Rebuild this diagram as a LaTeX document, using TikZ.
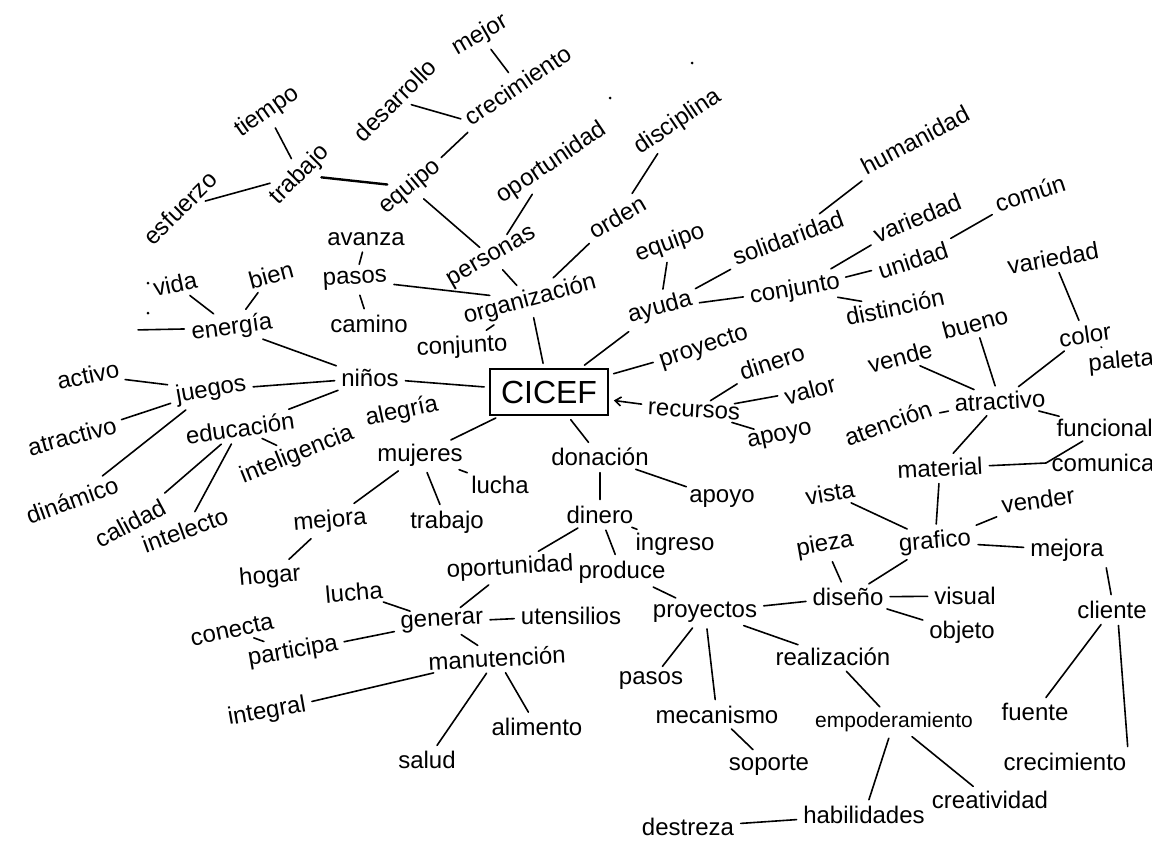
\documentclass[tikz,border=0pt]{standalone}
\usepackage{fontspec}
\setmainfont{Liberation Sans}
\usetikzlibrary{arrows.meta}
\begin{document}
\begin{tikzpicture}[x=1pt,y=-1pt,
  w/.style={inner sep=1.5pt, font=\fontsize{24}{26}\selectfont, text=black},
  sm/.style={font=\fontsize{21}{23}\selectfont},
  ln/.style={line width=1.6pt, shorten >=5pt, shorten <=5pt, line cap=round},
]
\fill[white] (0,0) rectangle (1152,847);
\useasboundingbox (0,0) rectangle (1152,847);

% ---------- top left ----------
\node[w,rotate=35] (tiempo) at (267,112) {tiempo};
\node[w,rotate=45] (trabajo) at (300,175) {trabajo};
\node[w,rotate=45] (esfuerzo) at (180,208) {esfuerzo};
\node[w,rotate=45] (desarrollo) at (395,100) {desarrollo};
\node[w,rotate=30] (mejor) at (480,35) {mejor};
\node[w,rotate=34] (crecimiento) at (518,85) {crecimiento};
\node[w,rotate=40] (equipoA) at (410,187) {equipo};
\node[w,rotate=34] (oportunidadA) at (552,163) {oportunidad};
\node[w,rotate=30] (personas) at (492,258) {personas};
\node[w,rotate=30] (orden) at (617,217) {orden};
\node[w,rotate=34] (disciplina) at (678,122) {disciplina};
\node[w] (avanza) at (366,239) {avanza};
\node[w,rotate=3] (pasos) at (355,280) {pasos};
\node[w] (camino) at (369,324) {camino};
\node[w,rotate=12] (vida) at (175,284) {vida};
\node[w,rotate=15] (bien) at (271,275) {bien};
\node[w,rotate=8] (energia) at (232,328) {energía};
\node[w] (ninos) at (370,378) {niños};
\node[w,rotate=15] (organizacion) at (530,300) {organización};
\node[w,rotate=3] (conjuntoA) at (462,347) {conjunto};

% ---------- center ----------
\node[draw, line width=1.6pt, minimum width=118pt, minimum height=46pt,
      font=\fontsize{32}{32}\selectfont, inner sep=0pt] (cicef) at (549,392) {CICEF};

% ---------- top right ----------
\node[w,rotate=20] (equipoB) at (670,243) {equipo};
\node[w,rotate=15] (ayuda) at (660,308) {ayuda};
\node[w,rotate=20] (solidaridad) at (788,238) {solidaridad};
\node[w,rotate=28] (humanidad) at (915,140) {humanidad};
\node[w,rotate=10] (conjuntoB) at (795,290) {conjunto};
\node[w,rotate=22] (variedadA) at (917,218) {variedad};
\node[w,rotate=18] (unidad) at (913,260) {unidad};
\node[w,rotate=18] (comun) at (1030,193) {común};
\node[w,rotate=12] (distincion) at (895,307) {distinción};
\node[w,rotate=10] (variedadB) at (1053,258) {variedad};
\node[w,rotate=18] (proyecto) at (704,348) {proyecto};
\node[w,rotate=18] (dineroA) at (772,362) {dinero};
\node[w,rotate=15] (valor) at (810,390) {valor};
\node[w,rotate=-3] (recursos) at (694,411) {recursos};
\node[w,rotate=12] (apoyoA) at (780,437) {apoyo};
\node[w,rotate=20] (atencion) at (888,423) {atención};
\node[w,rotate=15] (vende) at (900,357) {vende};
\node[w,rotate=15] (bueno) at (975,323) {bueno};
\node[w,rotate=8] (color) at (1085,335) {color};
\node[w,anchor=west,rotate=5] (paleta) at (1087,365) {paleta};
\node[w,rotate=3] (atractivoB) at (1000,401) {atractivo};
\node[w,anchor=west] (funcional) at (1055,428) {funcional};
\node[w,anchor=west] (comunicacion) at (1050,463) {comunicación};
\node[w,rotate=3] (material) at (940,468) {material};
\node[w,rotate=10] (vista) at (830,493) {vista};
\node[w,rotate=8] (vender) at (1038,500) {vender};
\node[w,rotate=5] (grafico) at (935,542) {grafico};
\node[w] (mejoraB) at (1067,550) {mejora};
\node[w,rotate=10] (pieza) at (825,545) {pieza};
\node[w] (diseno) at (848,597) {diseño};
\node[w] (visual) at (965,596) {visual};
\node[w] (objeto) at (962,632) {objeto};
\node[w] (cliente) at (1112,610) {cliente};
\node[w] (fuente) at (1035,712) {fuente};
\node[w] (crecimientoB) at (1065,762) {crecimiento};

% ---------- bottom right ----------
\node[w] (proyectos) at (705,612) {proyectos};
\node[w] (pasosB) at (651,681) {pasos};
\node[w] (mecanismo) at (717,715) {mecanismo};
\node[w] (soporte) at (769,765) {soporte};
\node[w] (realizacion) at (833,657) {realización};
\node[w,sm] (empoderamiento) at (894,722) {empoderamiento};
\node[w] (creatividad) at (990,800) {creatividad};
\node[w] (habilidades) at (864,815) {habilidades};
\node[w] (destreza) at (688,827) {destreza};

% ---------- left ----------
\node[w,rotate=12] (activo) at (88,375) {activo};
\node[w,rotate=10] (juegos) at (211,390) {juegos};
\node[w,rotate=15] (atractivoA) at (72,436) {atractivo};
\node[w,rotate=20] (dinamico) at (72,500) {dinámico};
\node[w,rotate=8] (educacion) at (240,428) {educación};
\node[w,rotate=22] (inteligencia) at (297,455) {inteligencia};
\node[w,rotate=28] (calidad) at (130,523) {calidad};
\node[w,rotate=20] (intelecto) at (185,530) {intelecto};
\node[w,rotate=12] (alegria) at (402,412) {alegría};

% ---------- bottom left / middle ----------
\node[w] (mujeres) at (420,455) {mujeres};
\node[w,rotate=5] (mejoraA) at (330,521) {mejora};
\node[w,rotate=5] (hogar) at (270,577) {hogar};
\node[w] (luchaA) at (500,485) {lucha};
\node[w] (trabajoB) at (447,522) {trabajo};
\node[w] (donacion) at (600,457) {donación};
\node[w] (apoyoB) at (722,499) {apoyo};
\node[w] (dineroB) at (600,515) {dinero};
\node[w] (ingreso) at (675,544) {ingreso};
\node[w,rotate=3] (oportunidadB) at (510,568) {oportunidad};
\node[w] (produce) at (622,572) {produce};
\node[w,rotate=5] (luchaB) at (354,592) {lucha};
\node[w,rotate=12] (conecta) at (232,630) {conecta};
\node[w,rotate=10] (participa) at (293,652) {participa};
\node[w,rotate=3] (generar) at (442,622) {generar};
\node[w] (utensilios) at (571,616) {utensilios};
\node[w,rotate=3] (manutencion) at (497,658) {manutención};
\node[w,rotate=10] (integral) at (267,712) {integral};
\node[w] (salud) at (427,760) {salud};
\node[w] (alimento) at (537,727) {alimento};

\coordinate (eL) at (133,330);
\coordinate (br) at (1046,463);

% stray dots
\fill (148,283) circle (1.5);
\fill (148,313) circle (1.5);
\fill (610,98) circle (1.5);
\fill (692,63) circle (1.5);

% ---------- connectors ----------
\draw[ln] (tiempo) -- (trabajo);
\draw[ln] (esfuerzo) -- (trabajo);
\draw[ln, line width=2.4pt] (trabajo) -- (equipoA);
\draw[ln] (desarrollo) -- (crecimiento.west);
\draw[ln] (mejor) -- (crecimiento);
\draw[ln] (equipoA) -- (crecimiento);
\draw[ln] (equipoA) -- (personas);
\draw[ln] (personas) -- (oportunidadA);
\draw[ln] (personas) -- (organizacion);
\draw[ln] (organizacion) -- (orden);
\draw[ln] (orden) -- (disciplina);
\draw[ln] (avanza) -- (pasos);
\draw[ln] (pasos) -- (organizacion);
\draw[ln] (pasos) -- (camino);
\draw[ln] (organizacion) -- (conjuntoA);
\draw[ln] (organizacion) -- (cicef);
\draw[ln] (vida) -- (energia);
\draw[ln] (bien) -- (energia);
\draw[ln] (energia) -- (eL);
\draw[ln] (energia) -- (ninos);
\draw[ln] (ninos) -- (cicef);
\draw[ln] (juegos) -- (ninos);
\draw[ln] (activo) -- (juegos);
\draw[ln] (atractivoA) -- (juegos);
\draw[ln] (juegos) -- (dinamico);
\draw[ln] (educacion) -- (ninos);
\draw[ln] (educacion) -- (inteligencia);
\draw[ln] (educacion) -- (calidad);
\draw[ln] (educacion) -- (intelecto);
\draw[ln] (cicef) -- (mujeres);
\draw[ln] (mujeres) -- (luchaA);
\draw[ln] (mujeres) -- (trabajoB);
\draw[ln] (mujeres) -- (mejoraA);
\draw[ln] (mejoraA) -- (hogar);
\draw[ln] (cicef) -- (donacion);
\draw[ln] (donacion) -- (apoyoB);
\draw[ln] (donacion) -- (dineroB);
\draw[ln] (dineroB) -- (oportunidadB);
\draw[ln] (dineroB) -- (produce);
\draw[ln] (dineroB) -- (ingreso);
\draw[ln] (produce) -- (proyectos);
\draw[ln] (oportunidadB) -- (generar);
\draw[ln] (luchaB) -- (generar);
\draw[ln] (participa) -- (generar);
\draw[ln] (conecta) -- (participa);
\draw[ln] (generar) -- (utensilios);
\draw[ln] (generar) -- (manutencion);
\draw[ln] (manutencion) -- (integral);
\draw[ln] (manutencion) -- (salud);
\draw[ln] (manutencion) -- (alimento);
\draw[ln] (proyectos) -- (diseno);
\draw[ln] (proyectos) -- (pasosB);
\draw[ln] (proyectos) -- (mecanismo);
\draw[ln] (mecanismo) -- (soporte);
\draw[ln] (proyectos) -- (realizacion);
\draw[ln] (realizacion) -- (empoderamiento);
\draw[ln] (empoderamiento) -- (habilidades);
\draw[ln] (empoderamiento) -- (creatividad);
\draw[ln] (destreza) -- (habilidades);
\draw[ln] (diseno) -- (visual);
\draw[ln] (diseno) -- (objeto);
\draw[ln] (pieza) -- (diseno);
\draw[ln] (grafico) -- (diseno);
\draw[ln] (vista) -- (grafico);
\draw[ln] (material) -- (grafico);
\draw[ln] (grafico) -- (vender);
\draw[ln] (grafico) -- (mejoraB);
\draw[ln] (mejoraB.south east) -- (cliente.north);
\draw[ln] (cliente) -- (fuente);
\draw[ln] (cliente.-60) -- (crecimientoB.north east);
\draw[ln] (material) -- (br) -- (funcional);
\draw[ln] (atractivoB) -- (material);
\draw[ln] (atractivoB) -- (funcional);
\draw[ln] (atencion) -- (atractivoB);
\draw[ln] (vende) -- (atractivoB);
\draw[ln] (bueno) -- (atractivoB);
\draw[ln] (color) -- (atractivoB);
\draw[ln] (variedadB) -- (color);
\draw[ln] (color) -- (paleta);
\draw[ln, -{Straight Barb[length=6pt,width=9pt]}] (recursos) -- (cicef);
\draw[ln] (recursos) -- (dineroA);
\draw[ln] (recursos) -- (valor);
\draw[ln] (recursos) -- (apoyoA);
\draw[ln] (cicef) -- (proyecto);
\draw[ln] (cicef) -- (ayuda);
\draw[ln] (equipoB) -- (ayuda);
\draw[ln] (ayuda) -- (solidaridad);
\draw[ln] (solidaridad) -- (humanidad);
\draw[ln] (ayuda) -- (conjuntoB);
\draw[ln] (conjuntoB) -- (variedadA);
\draw[ln] (conjuntoB) -- (unidad);
\draw[ln] (unidad) -- (comun);
\draw[ln] (conjuntoB) -- (distincion);
\end{tikzpicture}
\end{document}
